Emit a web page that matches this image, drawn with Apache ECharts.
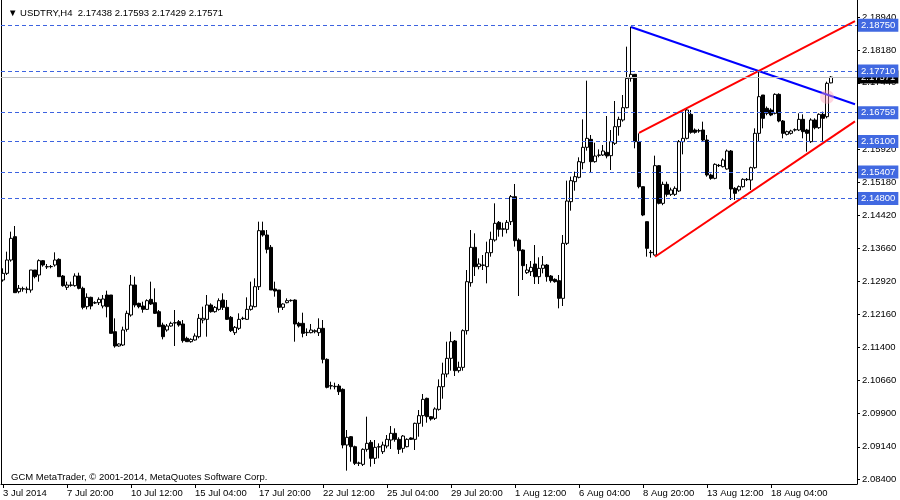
<!DOCTYPE html>
<html><head><meta charset="utf-8">
<script src="https://cdn.jsdelivr.net/npm/echarts@6/dist/echarts.min.js"></script>
<style>html,body{margin:0;padding:0;background:#fff}#c{width:900px;height:500px}</style>
</head><body><div id="c"></div><script>
const symbolName = 'USDTRY,H4';
const footerText = 'GCM MetaTrader, \u00a9 2001-2014, MetaQuotes Software Corp.';
const xTickLabels = ['3 Jul 2014','7 Jul 20:00','10 Jul 12:00','15 Jul 04:00','17 Jul 20:00','22 Jul 12:00','25 Jul 04:00','29 Jul 20:00','1 Aug 12:00','6 Aug 04:00','8 Aug 20:00','13 Aug 12:00','18 Aug 04:00'];
const barsPerLabel = 16;
const totalSlots = 214;
const yTickValues = [2.08400,2.09140,2.09900,2.10660,2.11400,2.12160,2.12920,2.13660,2.14420,2.15180,2.15920,2.16680,2.17440,2.18180,2.18940];
const yMin = 2.08293, yMax = 2.19328;

const opens = [
2.12944,2.13096,2.13400,2.13932,2.12678,2.12739,2.12731,2.12716,2.13172,2.13058,
2.13385,2.13248,2.13248,2.13286,2.13415,2.13035,2.12777,2.12822,2.12815,2.13035,
2.12754,2.12336,2.12549,2.12420,2.12427,2.12351,2.12602,2.12602,2.11766,2.11439,
2.11462,2.11819,2.12146,2.12830,2.12412,2.12351,2.12275,2.12503,2.12427,2.12222,
2.11918,2.11804,2.11895,2.11964,2.11994,2.11941,2.11614,2.11538,2.11576,2.11652,
2.12032,2.12047,2.12374,2.12222,2.12275,2.12488,2.12321,2.12093,2.11743,2.11842,
2.12062,2.12047,2.12275,2.12336,2.12792,2.14069,2.13970,2.13689,2.12739,2.12716,
2.12321,2.12427,2.12473,2.12488,2.11956,2.11956,2.11743,2.11743,2.11766,2.11743,
2.11842,2.11135,2.10527,2.10512,2.10527,2.10451,2.09182,2.09372,2.09144,2.08764,
2.08741,2.09083,2.09243,2.08878,2.09136,2.09030,2.09159,2.09296,2.09448,2.09311,
2.09106,2.09144,2.09342,2.09311,2.09676,2.09851,2.10246,2.09828,2.09790,2.09995,
2.10512,2.10801,2.11158,2.11553,2.10877,2.10953,2.11789,2.12883,2.13689,2.13248,
2.13278,2.13248,2.13567,2.13856,2.14259,2.14099,2.14099,2.14274,2.14844,2.13856,
2.13628,2.13111,2.13134,2.13309,2.13020,2.13210,2.13286,2.13035,2.12959,2.12929,
2.12526,2.13780,2.14730,2.15186,2.15285,2.15619,2.15969,2.16151,2.15642,2.15786,
2.15794,2.15855,2.15779,2.16060,2.16440,2.16592,2.16873,2.17542,2.17633,2.16098,
2.15072,2.14274,2.13575,2.13514,2.15551,2.14692,2.15125,2.14897,2.14897,2.14973,
2.16098,2.16174,2.16721,2.16364,2.16349,2.16364,2.16136,2.15338,2.15262,2.15558,
2.15528,2.15475,2.15885,2.15034,2.14996,2.15072,2.15231,2.15224,2.15505,2.16288,
2.17162,2.16858,2.16820,2.16744,2.17177,2.16569,2.16265,2.16288,2.16364,2.16364,
2.16607,2.16364,2.16098,2.16592,2.16417,2.16721,2.16668,2.17438];
const closes = [
2.13096,2.13400,2.13894,2.12655,2.12754,2.12746,2.12739,2.13172,2.13020,2.13385,
2.13286,2.13244,2.13252,2.13400,2.13020,2.12815,2.12830,2.12830,2.13035,2.12754,
2.12321,2.12549,2.12351,2.12427,2.12503,2.12511,2.12336,2.11728,2.11439,2.11485,
2.11804,2.12184,2.12830,2.12374,2.12336,2.12275,2.12473,2.12397,2.12184,2.11880,
2.11652,2.11895,2.11956,2.11971,2.11918,2.11561,2.11538,2.11591,2.11667,2.12070,
2.12070,2.12374,2.12222,2.12321,2.12473,2.12321,2.12047,2.11789,2.11865,2.12047,
2.12070,2.12275,2.12351,2.12792,2.14069,2.13970,2.13643,2.12716,2.12693,2.12321,
2.12397,2.12473,2.12480,2.11941,2.11895,2.11728,2.11751,2.11804,2.11789,2.11842,
2.11135,2.10497,2.10535,2.10520,2.10398,2.09182,2.09357,2.09144,2.08764,2.08772,
2.09083,2.09220,2.08878,2.09129,2.09144,2.09182,2.09311,2.09448,2.09311,2.09083,
2.09387,2.09311,2.09311,2.09676,2.09851,2.10223,2.09828,2.09775,2.10003,2.10512,
2.10801,2.11158,2.11538,2.10877,2.10953,2.11789,2.12906,2.13689,2.13248,2.13309,
2.13286,2.13567,2.13871,2.14236,2.14099,2.14114,2.14259,2.14844,2.13841,2.13613,
2.13271,2.13172,2.13233,2.13020,2.13210,2.13286,2.13020,2.12929,2.12906,2.12526,
2.13780,2.14745,2.15209,2.15300,2.15642,2.15969,2.16174,2.15642,2.15771,2.15794,
2.15885,2.15771,2.16098,2.16440,2.16607,2.16873,2.17542,2.17633,2.16098,2.15072,
2.14426,2.13666,2.13567,2.15551,2.14692,2.15125,2.14897,2.14996,2.15034,2.16098,
2.16174,2.16820,2.16311,2.16311,2.16341,2.16136,2.15338,2.15262,2.15581,2.15551,
2.15680,2.15885,2.15019,2.14920,2.15072,2.15239,2.15239,2.15505,2.16288,2.17124,
2.16630,2.16744,2.16706,2.17177,2.16569,2.16288,2.16326,2.16341,2.16371,2.16607,
2.16326,2.16288,2.16592,2.16417,2.16721,2.16630,2.17428,2.17571];
const lows = [
2.12906,2.13058,2.13362,2.12655,2.12640,2.12678,2.12640,2.12655,2.12982,2.12906,
2.13248,2.13195,2.13210,2.13248,2.13020,2.12792,2.12716,2.12792,2.12792,2.12731,
2.12275,2.12275,2.12275,2.12397,2.12374,2.12298,2.12093,2.11728,2.11401,2.11424,
2.11439,2.11766,2.12108,2.12321,2.12298,2.12199,2.12260,2.12374,2.12169,2.11880,
2.11591,2.11766,2.11880,2.11439,2.11880,2.11515,2.11538,2.11515,2.11561,2.11614,
2.11956,2.11652,2.12199,2.12199,2.12245,2.12260,2.12032,2.11758,2.11690,2.11804,
2.12032,2.12032,2.12245,2.12321,2.12716,2.13932,2.13552,2.12716,2.12564,2.12199,
2.12260,2.12412,2.12450,2.11538,2.11860,2.11637,2.11667,2.11728,2.11728,2.11667,
2.11044,2.10474,2.10451,2.10451,2.10322,2.09106,2.08597,2.08802,2.08726,2.08703,
2.08703,2.09030,2.08688,2.08749,2.08878,2.08977,2.09106,2.09091,2.09258,2.08977,
2.09007,2.09129,2.09296,2.09068,2.09372,2.09600,2.09691,2.09737,2.09752,2.09965,
2.10238,2.10725,2.10877,2.10755,2.10831,2.10877,2.11700,2.12792,2.13035,2.13187,
2.13172,2.12868,2.13476,2.13818,2.13932,2.13932,2.14008,2.14198,2.13704,2.12579,
2.12944,2.13081,2.13035,2.12853,2.12853,2.13096,2.12906,2.12883,2.12883,2.12298,
2.12351,2.13742,2.14525,2.14981,2.15262,2.15467,2.15893,2.15399,2.15619,2.15741,
2.15771,2.15718,2.15452,2.16022,2.16235,2.16554,2.16858,2.17466,2.15946,2.15034,
2.14400,2.13476,2.13453,2.13499,2.14669,2.14650,2.14844,2.14860,2.14860,2.14950,
2.15809,2.16150,2.16280,2.16280,2.16300,2.16100,2.15300,2.15230,2.15240,2.15520,
2.15510,2.15460,2.14768,2.14768,2.14960,2.15050,2.15200,2.14996,2.15480,2.16113,
2.16402,2.16700,2.16680,2.16720,2.16540,2.16174,2.16240,2.16260,2.16330,2.16340,
2.16174,2.15870,2.16070,2.16380,2.16390,2.16098,2.16630,2.17429];
const highs = [
2.13210,2.13590,2.14046,2.14175,2.12830,2.12792,2.12792,2.13172,2.13172,2.13415,
2.13400,2.13309,2.13286,2.13575,2.13438,2.13058,2.12906,2.12906,2.13096,2.13111,
2.12792,2.12640,2.12564,2.12458,2.12549,2.12602,2.12701,2.12602,2.12070,2.11500,
2.11880,2.12245,2.13058,2.13020,2.12427,2.12450,2.12503,2.12906,2.12754,2.12260,
2.11971,2.11941,2.11994,2.12260,2.12032,2.12032,2.11652,2.11614,2.11728,2.12169,
2.12336,2.12602,2.12412,2.12351,2.12526,2.12640,2.12488,2.12123,2.11895,2.12184,
2.12108,2.12549,2.12906,2.12982,2.14274,2.14274,2.14084,2.13742,2.12906,2.12716,
2.12412,2.12526,2.12503,2.12503,2.11990,2.12199,2.11842,2.11941,2.11819,2.12070,
2.12032,2.11158,2.10626,2.10603,2.10573,2.10474,2.09524,2.09387,2.09167,2.08802,
2.09106,2.09828,2.09296,2.09296,2.09220,2.09258,2.09410,2.09615,2.09562,2.09357,
2.09410,2.09334,2.09357,2.09691,2.09980,2.10345,2.10261,2.09843,2.10041,2.10679,
2.11059,2.11538,2.11766,2.11576,2.11082,2.11819,2.13172,2.14084,2.14008,2.13438,
2.13514,2.13818,2.14046,2.14692,2.14289,2.14251,2.14312,2.14882,2.15133,2.13894,
2.13643,2.13309,2.13377,2.13742,2.13461,2.13491,2.13309,2.13058,2.12982,2.13058,
2.13970,2.15209,2.15300,2.15414,2.15741,2.16607,2.17489,2.16250,2.16075,2.15923,
2.16022,2.16683,2.16364,2.17025,2.16668,2.17162,2.18264,2.18720,2.17633,2.16288,
2.15072,2.14274,2.13628,2.15779,2.15566,2.15186,2.15186,2.15050,2.15080,2.16136,
2.16782,2.16843,2.16820,2.16400,2.16390,2.16554,2.16250,2.15370,2.15604,2.15590,
2.15718,2.15920,2.15908,2.15060,2.15100,2.15262,2.15270,2.15528,2.16402,2.17732,
2.17162,2.16900,2.16860,2.17200,2.17200,2.16592,2.16350,2.16370,2.16400,2.16744,
2.16721,2.16390,2.16630,2.16630,2.16744,2.16782,2.17466,2.17593];

const levels = [2.18750, 2.17710, 2.16759, 2.16100, 2.15407, 2.14800];
const bidPrice = 2.17571;
const trendBlue = [[157, 2.18712], [213, 2.16950]];
const trendRedUpper = [[159, 2.16296], [213, 2.18847]];
const trendRedLower = [[163, 2.13475], [213, 2.16562]];
const clickMark = [[206, 2.17116]];

const FONT = 'Liberation Sans, Arial, sans-serif';
const FS = 9.5;
const categories = [];
for (let i = 0; i < totalSlots; i++) {
  const k = i / barsPerLabel;
  categories.push(i % barsPerLabel === 0 && k < xTickLabels.length ? xTickLabels[k] : '');
}
const candles = opens.map((o, i) => [o, closes[i], lows[i], highs[i]]);
const showTick = (idx) => categories[idx] !== '';
const n = opens.length - 1;
const header = '\u25BC ' + symbolName + '  ' + [opens[n], highs[n], lows[n], closes[n]].map(v => v.toFixed(5)).join(' ');

function hLine(value, lineStyle, bg) {
  return {
    type: 'line', data: [], symbol: 'none', silent: true, z: 2,
    markLine: {
      silent: true, symbol: ['none', 'none'], animation: false, precision: 5,
      lineStyle: lineStyle,
      label: { show: true, position: 'end', distance: 1, formatter: () => value.toFixed(5),
        backgroundColor: bg, color: '#fff', padding: [2, 3, 1, 3], fontSize: FS, fontFamily: FONT },
      data: [{ yAxis: value }]
    }
  };
}
const levelSeries = levels.map(v => hLine(v, { color: '#3d63e0', type: [4, 3], width: 1 }, '#4169E1'));
const bidSeries = hLine(bidPrice, { color: '#c0c0c0', type: 'solid', width: 1 }, '#000');

const chart = echarts.init(document.getElementById('c'), null, { renderer: 'canvas' });
chart.setOption({
  animation: false,
  backgroundColor: '#fff',
  title: [
    { text: header, left: 3, top: 3, textStyle: { fontSize: FS, fontWeight: 'normal', color: '#000', fontFamily: FONT } },
    { text: footerText, left: 6, top: 467, textStyle: { fontSize: FS, fontWeight: 'normal', color: '#000', fontFamily: FONT } }
  ],
  grid: { left: 1, right: 43, top: 0, bottom: 16 },
  xAxis: {
    type: 'category', data: categories, boundaryGap: true,
    axisLine: { show: true, lineStyle: { color: '#000', width: 1 } },
    axisTick: { show: true, interval: showTick, alignWithLabel: true, length: 4, lineStyle: { color: '#000' } },
    axisLabel: { show: true, interval: showTick, align: 'left', margin: 4, color: '#000', fontSize: FS, fontFamily: FONT },
    splitLine: { show: false }
  },
  yAxis: [
    { type: 'value', position: 'right', min: yMin, max: yMax,
      axisLine: { show: true, lineStyle: { color: '#000', width: 1 } },
      axisTick: { show: true, length: 3, customValues: yTickValues, lineStyle: { color: '#000' } },
      axisLabel: { show: true, customValues: yTickValues, formatter: v => v.toFixed(5), margin: 5, color: '#000', fontSize: FS, fontFamily: FONT },
      splitLine: { show: false } },
    { type: 'value', position: 'left', min: yMin, max: yMax,
      axisLine: { show: true, lineStyle: { color: '#000', width: 1 } },
      axisTick: { show: false }, axisLabel: { show: false }, splitLine: { show: false } }
  ],
  series: [
    bidSeries,
    ...levelSeries,
    { type: 'candlestick', data: candles, barWidth: 3,
      itemStyle: { color: '#fff', color0: '#000', borderColor: '#000', borderColor0: '#000', borderWidth: 1 },
      z: 3 },
    { type: 'line', data: trendBlue, symbol: 'none', lineStyle: { color: '#0000ff', width: 2 }, z: 4 },
    { type: 'line', data: trendRedUpper, symbol: 'none', lineStyle: { color: '#ff0000', width: 2 }, z: 4 },
    { type: 'line', data: trendRedLower, symbol: 'none', lineStyle: { color: '#ff0000', width: 2 }, z: 4 },
    { type: 'scatter', data: clickMark, symbolSize: 14, itemStyle: { color: 'rgba(255,160,185,0.55)' }, z: 5 }
  ]
});
</script></body></html>
